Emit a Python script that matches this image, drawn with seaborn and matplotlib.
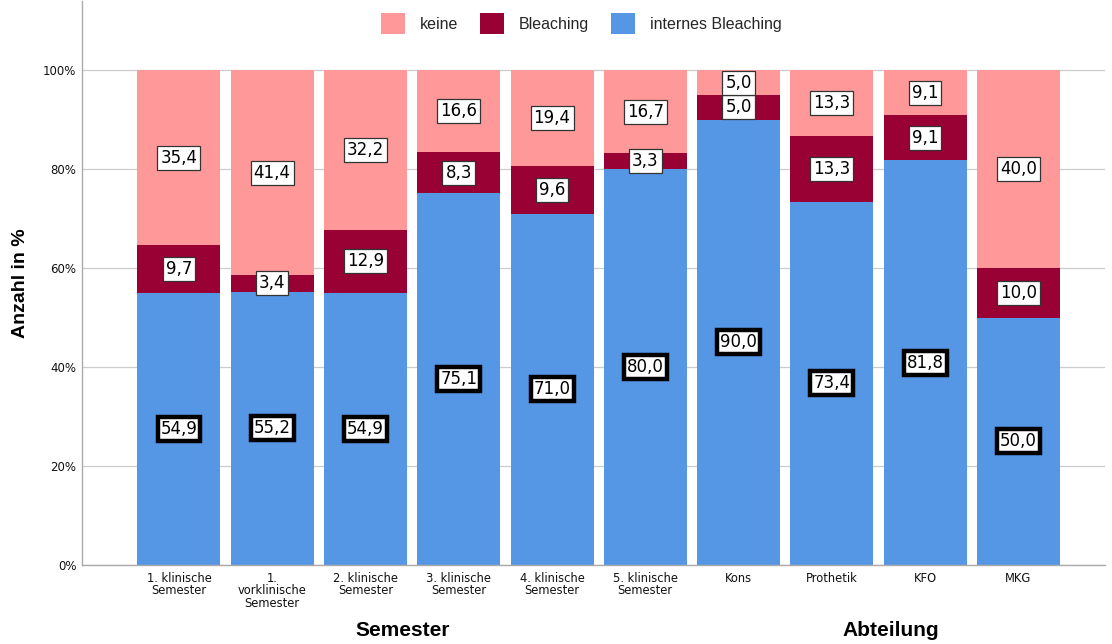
import matplotlib
matplotlib.use("Agg")
import matplotlib.pyplot as plt
import matplotlib.transforms as mtransforms
from matplotlib.patches import Patch
import seaborn as sns
import pandas as pd

categories = [
    "1. klinische\nSemester",
    "1.\nvorklinische\nSemester",
    "2. klinische\nSemester",
    "3. klinische\nSemester",
    "4. klinische\nSemester",
    "5. klinische\nSemester",
    "Kons",
    "Prothetik",
    "KFO",
    "MKG",
]
internes = [54.9, 55.2, 54.9, 75.1, 71.0, 80.0, 90.0, 73.4, 81.8, 50.0]
bleaching = [9.7, 3.4, 12.9, 8.3, 9.6, 3.3, 5.0, 13.3, 9.1, 10.0]
keine = [35.4, 41.4, 32.2, 16.6, 19.4, 16.7, 5.0, 13.3, 9.1, 40.0]
series_names = ["keine", "Bleaching", "internes Bleaching"]
group_labels = ["Semester", "Abteilung"]

c_keine = "#FF9999"
c_bleach = "#990033"
c_intern = "#5596E5"

df = pd.DataFrame({
    "Kategorie": categories,
    "internes": internes,
    "bleaching": bleaching,
    "keine": keine,
})
df["lvl2"] = df["internes"] + df["bleaching"]
df["lvl3"] = df["lvl2"] + df["keine"]

sns.set_theme(style="white")
plt.rcParams["font.family"] = ["DejaVu Sans"]

fig = plt.figure(figsize=(11.12, 6.44), dpi=100)
ax = fig.add_axes([82 / 1112, 79 / 644, 1023 / 1112, 564 / 644])

bw = 0.89
# cumulative layers, drawn back to front
sns.barplot(data=df, x="Kategorie", y="lvl3", color=c_keine, width=bw,
            saturation=1, ax=ax, zorder=2, linewidth=0)
sns.barplot(data=df, x="Kategorie", y="lvl2", color=c_bleach, width=bw,
            saturation=1, ax=ax, zorder=2, linewidth=0)
sns.barplot(data=df, x="Kategorie", y="internes", color=c_intern, width=bw,
            saturation=1, ax=ax, zorder=2, linewidth=0)

ax.set_xlim(-1.04, 9.93)
ax.set_ylim(0, 114)
ax.set_yticks([0, 20, 40, 60, 80, 100])
ax.set_yticklabels([f"{t}%" for t in [0, 20, 40, 60, 80, 100]], fontsize=8.5,
                   color="#111111")
ax.set_xticks(range(len(categories)))
ax.set_xticklabels(categories, fontsize=8.3, color="#111111", linespacing=0.95)
ax.tick_params(axis="both", length=0, pad=4)
ax.tick_params(axis="x", pad=5)
ax.yaxis.grid(True, color="#CCCCCC", linewidth=0.9, zorder=0)
ax.set_axisbelow(True)
for s in ["top", "right"]:
    ax.spines[s].set_visible(False)
for s in ["left", "bottom"]:
    ax.spines[s].set_color("#AAAAAA")
    ax.spines[s].set_linewidth(1.0)

ax.set_xlabel("")
ax.set_ylabel("Anzahl in %", fontsize=14, fontweight="bold", labelpad=10,
              color="black", family=["Liberation Sans", "DejaVu Sans"])


def fmt(v):
    return f"{v:.1f}".replace(".", ",")


thin_box = dict(boxstyle="square,pad=0.18", facecolor="white",
                edgecolor="#333333", linewidth=0.9)
thick_box = dict(boxstyle="square,pad=0.18", facecolor="white",
                 edgecolor="black", linewidth=3.2)

for i in range(len(categories)):
    a, b, k = internes[i], bleaching[i], keine[i]
    ax.text(i, a / 2, fmt(a), ha="center", va="center", fontsize=12,
            color="black", bbox=thick_box, zorder=5)
    ax.text(i, a + b / 2, fmt(b), ha="center", va="center", fontsize=12,
            color="black", bbox=thin_box, zorder=5)
    ax.text(i, a + b + k / 2, fmt(k), ha="center", va="center", fontsize=12,
            color="black", bbox=thin_box, zorder=5)

# group captions under the axis
trans = mtransforms.blended_transform_factory(ax.transData, fig.transFigure)
ax.text(2.40, 14 / 644, group_labels[0], transform=trans, ha="center",
        va="center", fontsize=15, fontweight="bold", color="black",
        family=["Liberation Sans", "DejaVu Sans"])
ax.text(7.63, 14 / 644, group_labels[1], transform=trans, ha="center",
        va="center", fontsize=15, fontweight="bold", color="black",
        family=["Liberation Sans", "DejaVu Sans"])

handles = [Patch(facecolor=c_keine, edgecolor="none"),
           Patch(facecolor=c_bleach, edgecolor="none"),
           Patch(facecolor=c_intern, edgecolor="none")]
fig.legend(handles, series_names, loc="upper center",
           bbox_to_anchor=(581 / 1112, 1 + 1 / 644), ncol=3, frameon=False,
           handlelength=1.5, handleheight=1.6, handletextpad=0.95,
           columnspacing=1.35, prop={"family": "Liberation Sans", "size": 11.5})

fig.savefig("out.png", dpi=100)
